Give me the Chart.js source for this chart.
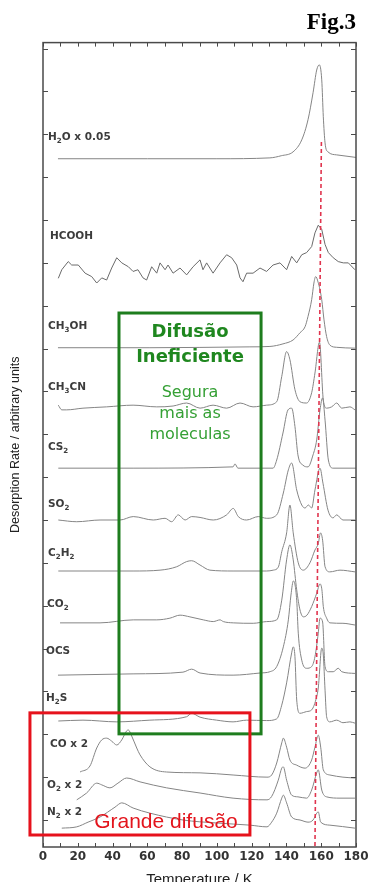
<!DOCTYPE html>
<html>
<head>
<meta charset="utf-8">
<script src="https://cdn.jsdelivr.net/npm/chart.js@4.4.1/dist/chart.umd.min.js"></script>
<style>
  html, body { margin: 0; padding: 0; background: #fff; }
  canvas { display: block; }
</style>
</head>
<body>
<canvas id="tpdChart" width="368" height="882"></canvas>
<script>
let tpdChart; // chart instance

// Desorption traces, [temperature K, rate in stacked arbitrary units]
const h2o = [[8.6,15.43],[60,15.43],[100,15.43],[130.5,15.45],[137,15.5],[143.8,15.59],[148.8,15.87],[152.4,16.34],[155.3,16.97],[157.4,17.5],[158.9,17.62],[160.3,17.27],[161.2,16.41],[162.2,15.8],[163.9,15.59],[168.9,15.52],[178.3,15.47],[180,15.46]];
const hcooh = [[8.8,12.64],[10.8,12.84],[14.5,13.03],[16.5,12.95],[20.3,12.95],[24.2,12.76],[28,12.68],[30.9,12.53],[33.8,12.65],[36.6,12.6],[39.5,12.88],[42.4,13.12],[45.3,13],[49.1,12.91],[51.8,12.8],[54.6,12.84],[57.5,12.65],[59.6,12.6],[62.5,12.91],[65.4,12.76],[67.3,13],[70.2,12.84],[71.9,12.95],[74.8,12.76],[78.8,12.88],[82.6,12.72],[86.3,12.91],[90.3,13.07],[92,12.84],[94.1,13],[97.8,12.76],[101.8,13],[105.6,13.19],[108.5,13.12],[111.4,12.95],[113.3,12.65],[115,12.56],[117.1,12.76],[120.8,12.76],[124.8,12.88],[128.6,12.8],[132.3,12.95],[136.3,13],[140.1,12.84],[143,13.15],[145.9,13],[148.8,13.19],[151.6,13.24],[154.5,13.38],[156.4,13.7],[158.3,13.88],[160.3,13.78],[162.2,13.43],[164.1,13.24],[166.9,13.12],[169.8,13.03],[172.7,13],[175.6,13],[179.4,12.84]];
const ch3oh = [[8.6,11.02],[61.5,11.02],[119,11.04],[130.5,11.05],[138,11.11],[143.8,11.2],[147.8,11.37],[150.7,11.51],[152.4,11.75],[154.5,12.14],[155.8,12.53],[156.8,12.68],[158.2,12.55],[160.3,12.14],[161.6,11.67],[163.1,11.28],[165,11.08],[168.9,11.03],[179.4,11.01]];
const ch3cn = [[8.8,9.68],[10.8,9.57],[13.6,9.57],[23,9.61],[36.6,9.64],[51.8,9.68],[65.4,9.64],[74.8,9.66],[82.6,9.73],[90.3,9.61],[97.8,9.68],[105.6,9.61],[113.3,9.73],[120.8,9.64],[128.6,9.68],[134.4,9.76],[137.3,10.35],[140.1,10.93],[142,10.74],[144.9,10.04],[147.8,9.76],[151.6,9.73],[154.5,9.97],[156.4,10.43],[159,11.15],[161.2,9.8],[163.1,9.61],[166,9.64],[168.9,9.73],[171.8,9.61],[176.5,9.64],[179.4,9.57]];
const cs2 = [[8.8,8.21],[51.8,8.21],[109.3,8.24],[110.4,8.31],[112.1,8.21],[132.3,8.21],[134.4,8.4],[138,9.03],[140.9,9.57],[143,9.61],[144.9,9.18],[146.6,8.52],[149.5,8.28],[152.4,8.24],[155.3,8.52],[157.4,8.87],[159.3,9.57],[160.8,9.85],[162.2,9.33],[164.1,8.4],[166.8,8.21],[180,8.21]];
const so2 = [[8.8,7],[19.4,6.96],[32.8,7],[44.3,7],[51.9,7.08],[63.4,7],[70.2,7.04],[74,6.96],[77.8,7.12],[81.7,7],[85.5,7.08],[90.3,7.06],[97.9,7],[105.6,7.12],[109.4,7.27],[112.3,7.08],[117.1,7],[123.8,7.08],[128.6,7.04],[134.4,7.12],[138.2,7.63],[141.1,8.17],[143,8.33],[145.9,7.7],[148.8,7.35],[150.7,7.28],[152.6,7.35],[154.5,7.28],[156.4,7.7],[159.3,8.21],[161,7.86],[163.9,7.23],[166.8,7.05],[168.9,7.12],[172.5,7],[179.4,7]];
const c2h2 = [[8.8,5.81],[51.8,5.81],[67.3,5.83],[76.9,5.91],[82.6,6.03],[85.5,6.05],[90.3,5.95],[96,5.83],[109.3,5.81],[128.6,5.81],[132.4,5.83],[135.3,5.9],[137.3,6.26],[140.1,6.7],[142,7.35],[143.9,6.7],[146.8,6],[149.7,5.83],[153.5,6],[156.4,6.3],[158.3,6.45],[159.6,6.7],[160.8,6.53],[162.2,5.91],[165,5.79],[170.8,5.83],[179.4,5.79]];
const co2 = [[9.8,4.6],[32.8,4.6],[51.9,4.67],[65.4,4.67],[73,4.71],[78.8,4.78],[84.5,4.74],[92.2,4.67],[97.9,4.63],[101.8,4.67],[103.7,4.63],[109.4,4.6],[120.9,4.59],[128.6,4.63],[134.4,4.67],[137.3,5.13],[140.1,6.07],[142,6.42],[143.9,6.07],[145.9,5.37],[147.8,4.9],[149.7,4.74],[151.8,4.78],[154.5,4.98],[157.4,5.29],[159.3,5.51],[160.4,5.37],[161.2,4.98],[163.1,4.71],[165,4.6],[172.5,4.59],[179.4,4.55]];
const ocs = [[8.6,3.38],[51.8,3.41],[80.5,3.45],[85.5,3.52],[90.3,3.43],[109.3,3.38],[124.8,3.43],[130.5,3.46],[134.4,3.58],[138.2,4.04],[141.1,4.67],[142.6,5.25],[144,5.58],[145.9,5.13],[146.8,4.36],[148.8,3.73],[151.6,3.54],[154.5,3.58],[156.4,3.81],[158.3,4.36],[159.3,4.71],[160.8,4.62],[162.2,3.58],[164.1,3.46],[166.9,3.46],[169.8,3.54],[171.8,3.46],[179.4,3.42]];
const h2s = [[8.8,2.31],[23,2.33],[42.4,2.29],[61.5,2.33],[82.6,2.41],[85.5,2.49],[90.3,2.4],[99.9,2.33],[109.3,2.29],[117.1,2.33],[128.6,2.32],[134.4,2.36],[137.3,2.68],[140.1,3.2],[143,3.9],[143.9,4.04],[144.9,3.81],[145.9,2.8],[147.8,2.49],[151.6,2.53],[154.5,2.57],[157.4,2.88],[158.3,3.08],[160.3,4.01],[161.2,3.85],[162.2,3.03],[163.1,2.41],[165,2.29],[168.9,2.33],[172.5,2.27],[176.5,2.29],[179.4,2.26]];
const co = [[21.3,1.12],[27,1.26],[30.9,1.68],[33.8,1.87],[36.6,1.91],[39.5,1.84],[42.4,1.75],[45.3,1.87],[48.1,2.08],[49.1,2.1],[51,1.96],[53.9,1.68],[55.8,1.52],[61.5,1.24],[71.1,1.12],[90.3,1.1],[109.3,1.05],[128.8,1],[131.5,1.05],[134.4,1.33],[137.3,1.8],[138.2,1.91],[140.1,1.7],[142,1.4],[145.9,1.28],[150.7,1.21],[154.5,1.4],[156.4,1.7],[158.3,1.98],[159.7,1.7],[161.2,1.17],[165,1.05],[172.5,1],[179.4,0.98]];
const o2 = [[19.4,0.47],[25.1,0.63],[30.9,0.86],[33.8,0.82],[38.5,0.75],[43.1,0.86],[48.1,0.98],[55.8,0.89],[71.1,0.75],[90.3,0.63],[109.3,0.51],[128.8,0.47],[131.5,0.55],[135.3,0.93],[137.3,1.21],[138.2,1.24],[140.1,0.93],[143,0.58],[146.6,0.54],[151.6,0.51],[154.5,0.7],[157.4,1.1],[158.3,1.17],[160.3,0.7],[163.1,0.54],[170.8,0.51],[179.4,0.51]];
const n2 = [[10.8,-0.19],[19.4,-0.16],[25.9,-0.05],[32.8,0.07],[41.4,0.3],[45.3,0.4],[51.8,0.28],[61.5,0.16],[80.5,0],[99.9,-0.07],[119,-0.12],[128.8,-0.16],[131.5,-0.05],[134.4,0.16],[137.3,0.51],[138.2,0.58],[140.1,0.4],[143,0.07],[147.8,0],[152.4,-0.05],[155.3,0],[157.4,0.16],[158.3,0.19],[159.7,-0.05],[165,-0.12],[179.4,-0.19]];

// red dashed guide near the water peak
const waterMarker = [[160.1,15.82],[156.4,-0.63]];

const traces = [h2o, hcooh, ch3oh, ch3cn, cs2, so2, c2h2, co2, ocs, h2s, co, o2, n2];
// '_' marks the next character as a subscript
const traceNames = ['H_2O x 0.05', 'HCOOH', 'CH_3OH', 'CH_3CN', 'CS_2', 'SO_2', 'C_2H_2', 'CO_2', 'OCS', 'H_2S', 'CO x 2', 'O_2 x 2', 'N_2 x 2'];
const xTicks = [0, 20, 40, 60, 80, 100, 120, 140, 160, 180];

const toPoints = arr => arr.map(p => ({ x: p[0], y: p[1] }));

// Write a label, dropping characters after '_' to a subscript
function drawFormula(ctx, text, x, y, size) {
    let cx = x;
    for (let i = 0; i < text.length; i++) {
        let ch = text[i];
        if (ch === '_') {
            ch = text[++i];
            ctx.font = `bold ${size * 0.68}px "DejaVu Sans"`;
            ctx.fillText(ch, cx, y + size * 0.3);
        } else {
            ctx.font = `bold ${size}px "DejaVu Sans"`;
            ctx.fillText(ch, cx, y);
        }
        cx += ctx.measureText(ch).width;
    }
}

// Frame, inward ticks, trace names and the two highlight boxes
const overlay = {
    id: 'overlay',
    afterDatasetsDraw(chart, args, opts) {
        const { ctx, chartArea: a, scales: { x, y } } = chart;
        ctx.save();

        ctx.strokeStyle = '#4a4a4a';
        ctx.lineWidth = 1.5;
        ctx.strokeRect(a.left, a.top, a.right - a.left, a.bottom - a.top);

        ctx.lineWidth = 1;
        ctx.beginPath();
        for (let t = 0; t <= 180; t += 10) {
            const px = Math.round(x.getPixelForValue(t)) + 0.5;
            ctx.moveTo(px, a.bottom); ctx.lineTo(px, a.bottom - 4);
            ctx.moveTo(px, a.top); ctx.lineTo(px, a.top + 4);
        }
        for (let v = 0; v <= 18; v++) {
            const py = Math.round(y.getPixelForValue(v)) + 0.5;
            ctx.moveTo(a.left, py); ctx.lineTo(a.left + 5, py);
            ctx.moveTo(a.right, py); ctx.lineTo(a.right - 5, py);
        }
        ctx.stroke();

        // trace names
        ctx.fillStyle = '#3c3c3c';
        ctx.textBaseline = 'alphabetic';
        ctx.textAlign = 'left';
        traceNames.forEach((name, i) => {
            const pos = opts.labelAt[i];
            drawFormula(ctx, name, x.getPixelForValue(pos[0]), y.getPixelForValue(pos[1]), 10.5);
        });

        // boxes
        const box = (b, color) => {
            const x0 = x.getPixelForValue(b[0]), x1 = x.getPixelForValue(b[1]);
            const y0 = y.getPixelForValue(b[2]), y1 = y.getPixelForValue(b[3]);
            ctx.strokeStyle = color;
            ctx.lineWidth = 3;
            ctx.strokeRect(x0, y0, x1 - x0, y1 - y0);
            return { cx: (x0 + x1) / 2, top: y0, bottom: y1 };
        };
        const g = box(opts.greenBox, '#1e7d1e');
        ctx.textAlign = 'center';
        ctx.textBaseline = 'middle';
        ctx.fillStyle = '#1f871f';
        ctx.font = 'bold 18px "DejaVu Sans"';
        ctx.fillText('Difusão', g.cx, g.top + 19);
        ctx.fillText('Ineficiente', g.cx, g.top + 44);
        ctx.fillStyle = '#35a035';
        ctx.font = '16px "DejaVu Sans"';
        ctx.fillText('Segura', g.cx, g.top + 80);
        ctx.fillText('mais as', g.cx, g.top + 101);
        ctx.fillText('moleculas', g.cx, g.top + 122);

        const r = box(opts.redBox, '#e6121c');
        ctx.fillStyle = '#e3141c';
        ctx.font = '21px "Liberation Sans"';
        ctx.fillText('Grande difusão', r.cx + 26, r.bottom - 13);

        ctx.restore();
    }
};

function drawChart() {
    const ctx = document.getElementById('tpdChart').getContext('2d');
    const datasets = traces.map((t, i) => ({
        label: traceNames[i].replace(/_/g, ''),
        data: toPoints(t),
        borderColor: i === 1 ? '#6a6a6a' : '#858585',
        borderWidth: 1,
        pointRadius: 0,
        fill: false,
        cubicInterpolationMode: i === 1 ? 'default' : 'monotone',
        tension: 0,
        order: 1
    }));
    datasets.push({
        label: 'marker',
        data: toPoints(waterMarker),
        borderColor: '#e0344e',
        borderWidth: 1.6,
        borderDash: [4, 3],
        pointRadius: 0,
        fill: false,
        order: 0
    });

    tpdChart = new Chart(ctx, {
        type: 'line',
        data: { datasets: datasets },
        options: {
            responsive: false,
            animation: false,
            layout: { padding: { top: 0, right: 12, bottom: 0, left: 0 } },
            plugins: {
                legend: { display: false },
                tooltip: { enabled: false },
                title: {
                    display: true,
                    text: 'Fig.3',
                    align: 'end',
                    color: '#000',
                    font: { family: 'Liberation Serif', size: 23, weight: 'bold' },
                    padding: { top: 9, bottom: 6 }
                },
                overlay: {
                    labelAt: [[2.9,15.87],[4,13.56],[2.9,11.46],[2.9,10.04],[2.9,8.63],[2.9,7.3],[2.9,6.16],[2.3,4.97],[1.7,3.87],[1.7,2.78],[4,1.7],[2.3,0.75],[2.3,0.12]],
                    greenBox: [43.7, 125.4, 11.83, 2.01],
                    redBox: [-7.5, 119, 2.5, -0.35]
                }
            },
            scales: {
                x: {
                    type: 'linear',
                    min: 0,
                    max: 180,
                    afterFit: scale => {
                        scale.height = 35;
                        scale.paddingLeft = 0;
                        scale.paddingRight = 0;
                    },
                    afterBuildTicks: scale => { scale.ticks = xTicks.map(v => ({ value: v })); },
                    ticks: {
                        color: '#333',
                        padding: 3,
                        maxRotation: 0,
                        autoSkip: false,
                        font: { family: 'DejaVu Sans', size: 12, weight: 'bold' }
                    },
                    grid: { display: false, drawTicks: false },
                    border: { display: false },
                    title: {
                        display: true,
                        text: 'Temperature / K',
                        color: '#222',
                        font: { family: 'Liberation Sans', size: 15 },
                        padding: { top: 0, bottom: -7 }
                    }
                },
                y: {
                    type: 'linear',
                    min: -0.63,
                    max: 18.14,
                    afterFit: scale => { scale.width = 43; },
                    ticks: { display: false },
                    grid: { display: false, drawTicks: false },
                    border: { display: false },
                    title: {
                        display: true,
                        text: 'Desorption Rate / arbitrary units',
                        color: '#222',
                        font: { family: 'Liberation Sans', size: 12.5 },
                        padding: { top: 8, bottom: 0 }
                    }
                }
            }
        },
        plugins: [overlay]
    });
}

window.onload = function() {
    drawChart();
};
</script>
</body>
</html>
